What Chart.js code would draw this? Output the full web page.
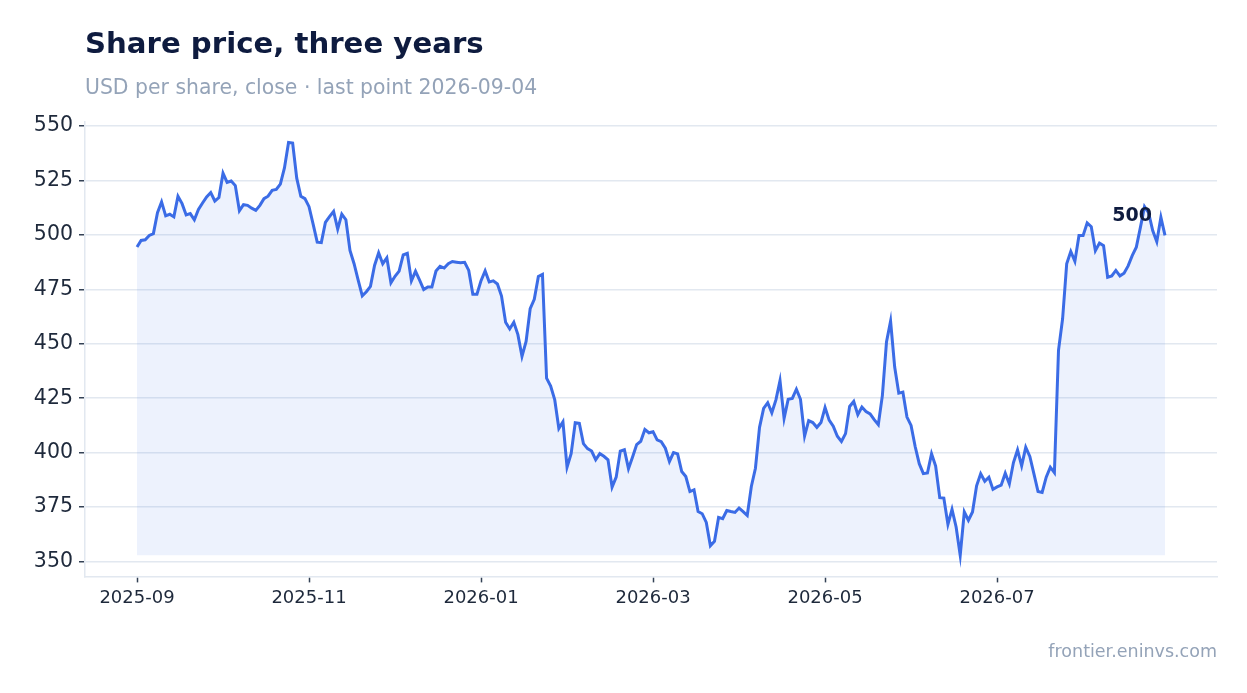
<!DOCTYPE html>
<html>
<head>
<meta charset="utf-8">
<title>Share price, three years</title>
<script src="https://cdn.jsdelivr.net/npm/chart.js@4"></script>
<style>
  body { margin: 0; background: #fff; font-family: "DejaVu Sans", sans-serif; }
  #wrap { position: relative; width: 1247px; height: 693px; }
  #chart { position: absolute; left: 0; top: 0; }
  .txt { position: absolute; line-height: 1; white-space: nowrap; }
  #title { left: 85px; top: 28.5px; font-size: 29.2px; font-weight: bold; color: #0e1b3f; }
  #sub { left: 85px; top: 77px; font-size: 20.4px; color: #94a3b8; }
  #foot { right: 30px; top: 642.5px; font-size: 17.5px; color: #94a3b8; }
</style>
</head>
<body>
<div id="wrap">
  <canvas id="chart" width="1247" height="693"></canvas>
  <div class="txt" id="title">Share price, three years</div>
  <div class="txt" id="sub">USD per share, close · last point 2026-09-04</div>
  <div class="txt" id="foot">frontier.eninvs.com</div>
</div>
<script>
// daily closes, 252 trading days
const prices = [
  494.5, 497.5, 497.8, 499.8, 500.6, 510.2, 515.2, 508.8, 509.5, 508.3,
  517.8, 514.4, 509.2, 509.8, 507.0, 511.7, 514.7, 517.5, 519.5, 515.6,
  517.2, 528.4, 524.2, 524.8, 522.7, 511.1, 513.9, 513.6, 512.3, 511.3,
  513.6, 516.7, 517.8, 520.5, 520.9, 523.4, 530.8, 542.5, 542.2, 526.1,
  517.8, 516.7, 513.0, 505.0, 496.7, 496.5, 505.8, 508.4, 510.8, 502.7,
  509.6, 507.0, 492.9, 486.8, 479.2, 472.0, 473.9, 476.4, 486.0, 491.8,
  486.8, 489.5, 478.0, 481.0, 483.4, 490.9, 491.6, 478.9, 483.3, 479.2,
  474.9, 476.1, 476.1, 483.4, 485.6, 484.8, 486.8, 487.8, 487.5, 487.2,
  487.4, 483.7, 472.8, 472.8, 479.0, 483.5, 478.4, 478.9, 477.5, 471.9,
  459.9, 456.8, 459.9, 454.2, 444.2, 451.1, 466.1, 470.4, 480.9, 481.9,
  434.2, 430.6, 424.2, 411.1, 414.1, 393.3, 399.5, 413.7, 413.4, 404.1,
  401.8, 400.7, 396.7, 399.5, 398.3, 396.7, 384.1, 388.7, 400.7, 401.3,
  392.6, 398.0, 403.7, 405.2, 410.6, 409.1, 409.6, 405.8, 405.0, 402.0,
  395.9, 400.0, 399.4, 391.3, 389.0, 382.1, 382.9, 372.9, 371.9, 367.9,
  357.2, 359.2, 370.2, 369.6, 373.4, 372.9, 372.5, 374.5, 372.9, 371.1,
  384.4, 392.8, 411.6, 420.3, 422.9, 418.3, 424.2, 433.0, 415.7, 424.5,
  424.9, 429.1, 424.5, 407.6, 414.7, 413.8, 411.6, 413.8, 420.7, 414.9,
  412.1, 407.5, 405.1, 408.7, 421.2, 423.5, 417.4, 420.9, 418.9, 417.8,
  415.1, 412.8, 426.3, 450.8, 460.4, 439.3, 427.3, 427.8, 416.3, 412.5,
  402.8, 394.9, 390.3, 390.6, 399.5, 393.8, 379.3, 379.1, 367.0, 373.9,
  365.8, 352.8, 372.7, 368.9, 372.7, 384.7, 390.3, 386.8, 388.7, 383.1,
  384.2, 385.0, 390.5, 385.6, 395.4, 401.2, 393.9, 402.4, 398.2, 390.2,
  382.1, 381.7, 388.7, 393.3, 390.8, 447.0, 461.5, 486.7, 492.4, 487.9,
  499.7, 499.7, 505.5, 503.8, 492.8, 496.3, 495.1, 480.6, 481.2, 483.7,
  481.2, 482.4, 485.8, 490.5, 494.4, 503.5, 513.0, 510.2, 502.0, 496.9,
  508.1, 499.8
];

// x tick labels and the trading-day index each one sits on
const tickLabels = ["2025-09", "2025-11", "2026-01", "2026-03", "2026-05", "2026-07"];
const tickIndex = [0, 42, 84, 126, 168, 210];

// y axis ticks
const yTicks = [350, 375, 400, 425, 450, 475, 500, 525, 550];

const lineColor = "#3b6ce6";
const gridColor = "#e2e8f0";
const tickColor = "#334155";
const textColor = "#1e293b";

// label next to the last point
const lastLabel = {
  id: "lastLabel",
  afterDatasetsDraw(chart) {
    const meta = chart.getDatasetMeta(0);
    const pt = meta.data[meta.data.length - 1];
    const ctx = chart.ctx;
    ctx.save();
    ctx.font = "bold 19px 'DejaVu Sans'";
    ctx.fillStyle = "#0e1b3f";
    ctx.textAlign = "right";
    ctx.textBaseline = "alphabetic";
    ctx.fillText(String(Math.round(prices[prices.length - 1])), pt.x - 13, pt.y - 14);
    ctx.restore();
  }
};

new Chart(document.getElementById("chart"), {
  type: "line",
  data: {
    datasets: [{
      data: prices.map((v, i) => ({ x: i, y: v })),
      borderColor: lineColor,
      borderWidth: 3,
      backgroundColor: "rgba(59,108,230,0.09)",
      fill: { value: Math.min(...prices) },
      pointRadius: 0,
      tension: 0
    }]
  },
  options: {
    responsive: false,
    animation: false,
    layout: { padding: { top: 121.8, right: 30, bottom: 79, left: 0 } },
    plugins: {
      legend: { display: false },
      title: { display: false },
      tooltip: { enabled: false }
    },
    scales: {
      x: {
        type: "linear",
        min: -12.7,
        max: 263.7,
        afterBuildTicks: (axis) => { axis.ticks = tickIndex.map(v => ({ value: v })); },
        grid: { drawOnChartArea: false, drawTicks: true, tickLength: 6, tickColor: tickColor, tickWidth: 1.5 },
        border: { display: true, color: gridColor, width: 1.5 },
        ticks: {
          autoSkip: false,
          maxRotation: 0,
          padding: 5,
          color: textColor,
          font: { family: "DejaVu Sans", size: 18 },
          callback: (value, index) => tickLabels[index]
        }
      },
      y: {
        min: 343.1,
        max: 552,
        afterFit: (axis) => { axis.width = 85; },
        afterBuildTicks: (axis) => { axis.ticks = yTicks.map(v => ({ value: v })); },
        grid: { color: gridColor, lineWidth: 1.5, tickLength: 6, tickColor: tickColor, tickWidth: 1.5 },
        border: { display: true, color: gridColor, width: 1.5 },
        ticks: {
          padding: 6,
          color: textColor,
          font: { family: "DejaVu Sans", size: 20.5 }
        }
      }
    }
  },
  plugins: [lastLabel]
});
</script>
</body>
</html>
